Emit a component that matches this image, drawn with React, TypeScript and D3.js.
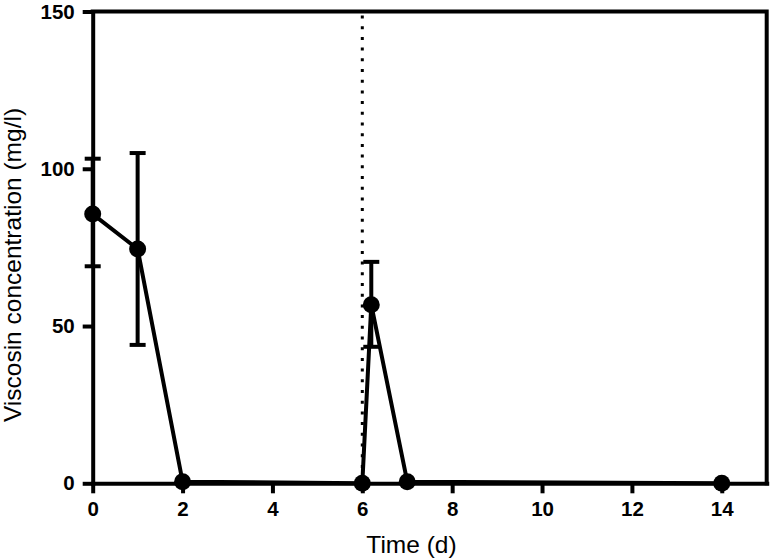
import React, { useEffect, useRef } from "react";
import * as d3 from "d3";

// Time points (d) and viscosin concentration (mg/l)
const times = [0, 1, 2, 6, 6.2, 7, 14];
const means = [85.6, 74.5, 0.5, 0, 56.8, 0.5, 0];
const errLow = [69, 44, null, null, 43.4, null, null];
const errHigh = [103.2, 105, null, null, 70.4, null, null];
const xTicks = [0, 2, 4, 6, 8, 10, 12, 14];
const yTicks = [0, 50, 100, 150];
const markerDay = 6;

const width = 773;
const height = 559;
const marginLeft = 92.7;
const marginRight = 6.3;
const marginTop = 11.5;
const marginBottom = 75.7;
const font = "Liberation Sans, Arial, sans-serif";

function drawChart(el: SVGSVGElement) {
  const svg = d3.select(el);
  svg.selectAll("*").remove();

  const x = d3.scaleLinear().domain([0, 15]).range([marginLeft, width - marginRight]);
  const y = d3.scaleLinear().domain([0, 150]).range([height - marginBottom, marginTop]);

  const sw = 4;

  // frame: top and right
  svg.append("path")
    .attr("d", `M${x(0)},${y(150)}H${x(15)}V${y(0)}`)
    .attr("fill", "none")
    .attr("stroke", "#000")
    .attr("stroke-width", sw)
    .attr("stroke-linecap", "square");

  // y axis
  const yAxis = svg.append("g")
    .attr("transform", `translate(${x(0)},0)`)
    .call(d3.axisLeft(y).tickValues(yTicks).tickSize(10).tickSizeOuter(0).tickPadding(8));
  yAxis.select(".domain").attr("stroke-width", sw).attr("stroke-linecap", "square");
  yAxis.selectAll(".tick line").attr("stroke-width", sw);
  yAxis.selectAll(".tick text")
    .attr("font-family", font)
    .attr("font-weight", "bold")
    .attr("font-size", 20.5)
    .attr("fill", "#000");

  // x axis
  const xAxis = svg.append("g")
    .attr("transform", `translate(0,${y(0)})`)
    .call(d3.axisBottom(x).tickValues(xTicks).tickSize(10).tickSizeOuter(0).tickPadding(8));
  xAxis.select(".domain").attr("stroke-width", sw).attr("stroke-linecap", "square");
  xAxis.selectAll(".tick line").attr("stroke-width", sw);
  xAxis.selectAll(".tick text")
    .attr("font-family", font)
    .attr("font-weight", "bold")
    .attr("font-size", 20.5)
    .attr("fill", "#000");

  // dotted vertical line
  svg.append("line")
    .attr("x1", x(markerDay))
    .attr("x2", x(markerDay))
    .attr("y1", y(150) + 4)
    .attr("y2", y(0))
    .attr("stroke", "#000")
    .attr("stroke-width", 3)
    .attr("stroke-dasharray", "3 7.7");

  const pts = times.map((t, i) => ({ t, m: means[i], lo: errLow[i], hi: errHigh[i] }));

  // error bars
  const eb = svg.append("g").attr("stroke", "#000").attr("stroke-width", sw);
  pts.filter((d) => d.lo != null).forEach((d) => {
    const cx = x(d.t);
    eb.append("line").attr("x1", cx).attr("x2", cx).attr("y1", y(d.lo as number)).attr("y2", y(d.hi as number));
    [d.lo, d.hi].forEach((v) => {
      eb.append("line")
        .attr("x1", cx - 8).attr("x2", cx + 8)
        .attr("y1", y(v as number)).attr("y2", y(v as number));
    });
  });

  // connecting line
  const line = d3.line<{ t: number; m: number }>().x((d) => x(d.t)).y((d) => y(d.m));
  svg.append("path")
    .datum(pts)
    .attr("d", line as any)
    .attr("fill", "none")
    .attr("stroke", "#000")
    .attr("stroke-width", sw)
    .attr("stroke-linejoin", "round");

  // markers
  svg.append("g")
    .selectAll("circle")
    .data(pts)
    .join("circle")
    .attr("cx", (d) => x(d.t))
    .attr("cy", (d) => y(d.m))
    .attr("r", 8.5)
    .attr("fill", "#000");

  // axis titles
  svg.append("text")
    .attr("x", 411.5)
    .attr("y", 553)
    .attr("text-anchor", "middle")
    .attr("font-family", font)
    .attr("font-size", 24.5)
    .text("Time (d)");

  svg.append("text")
    .attr("transform", `translate(21,265) rotate(-90)`)
    .attr("text-anchor", "middle")
    .attr("font-family", font)
    .attr("font-size", 24.5)
    .text("Viscosin concentration (mg/l)");
}

export default function App() {
  const ref = useRef<SVGSVGElement>(null);
  useEffect(() => {
    if (ref.current) drawChart(ref.current);
  }, []);
  return (
    <svg
      ref={ref}
      width={width}
      height={height}
      style={{ position: "absolute", left: 0, top: 0, background: "#fff" }}
    />
  );
}
